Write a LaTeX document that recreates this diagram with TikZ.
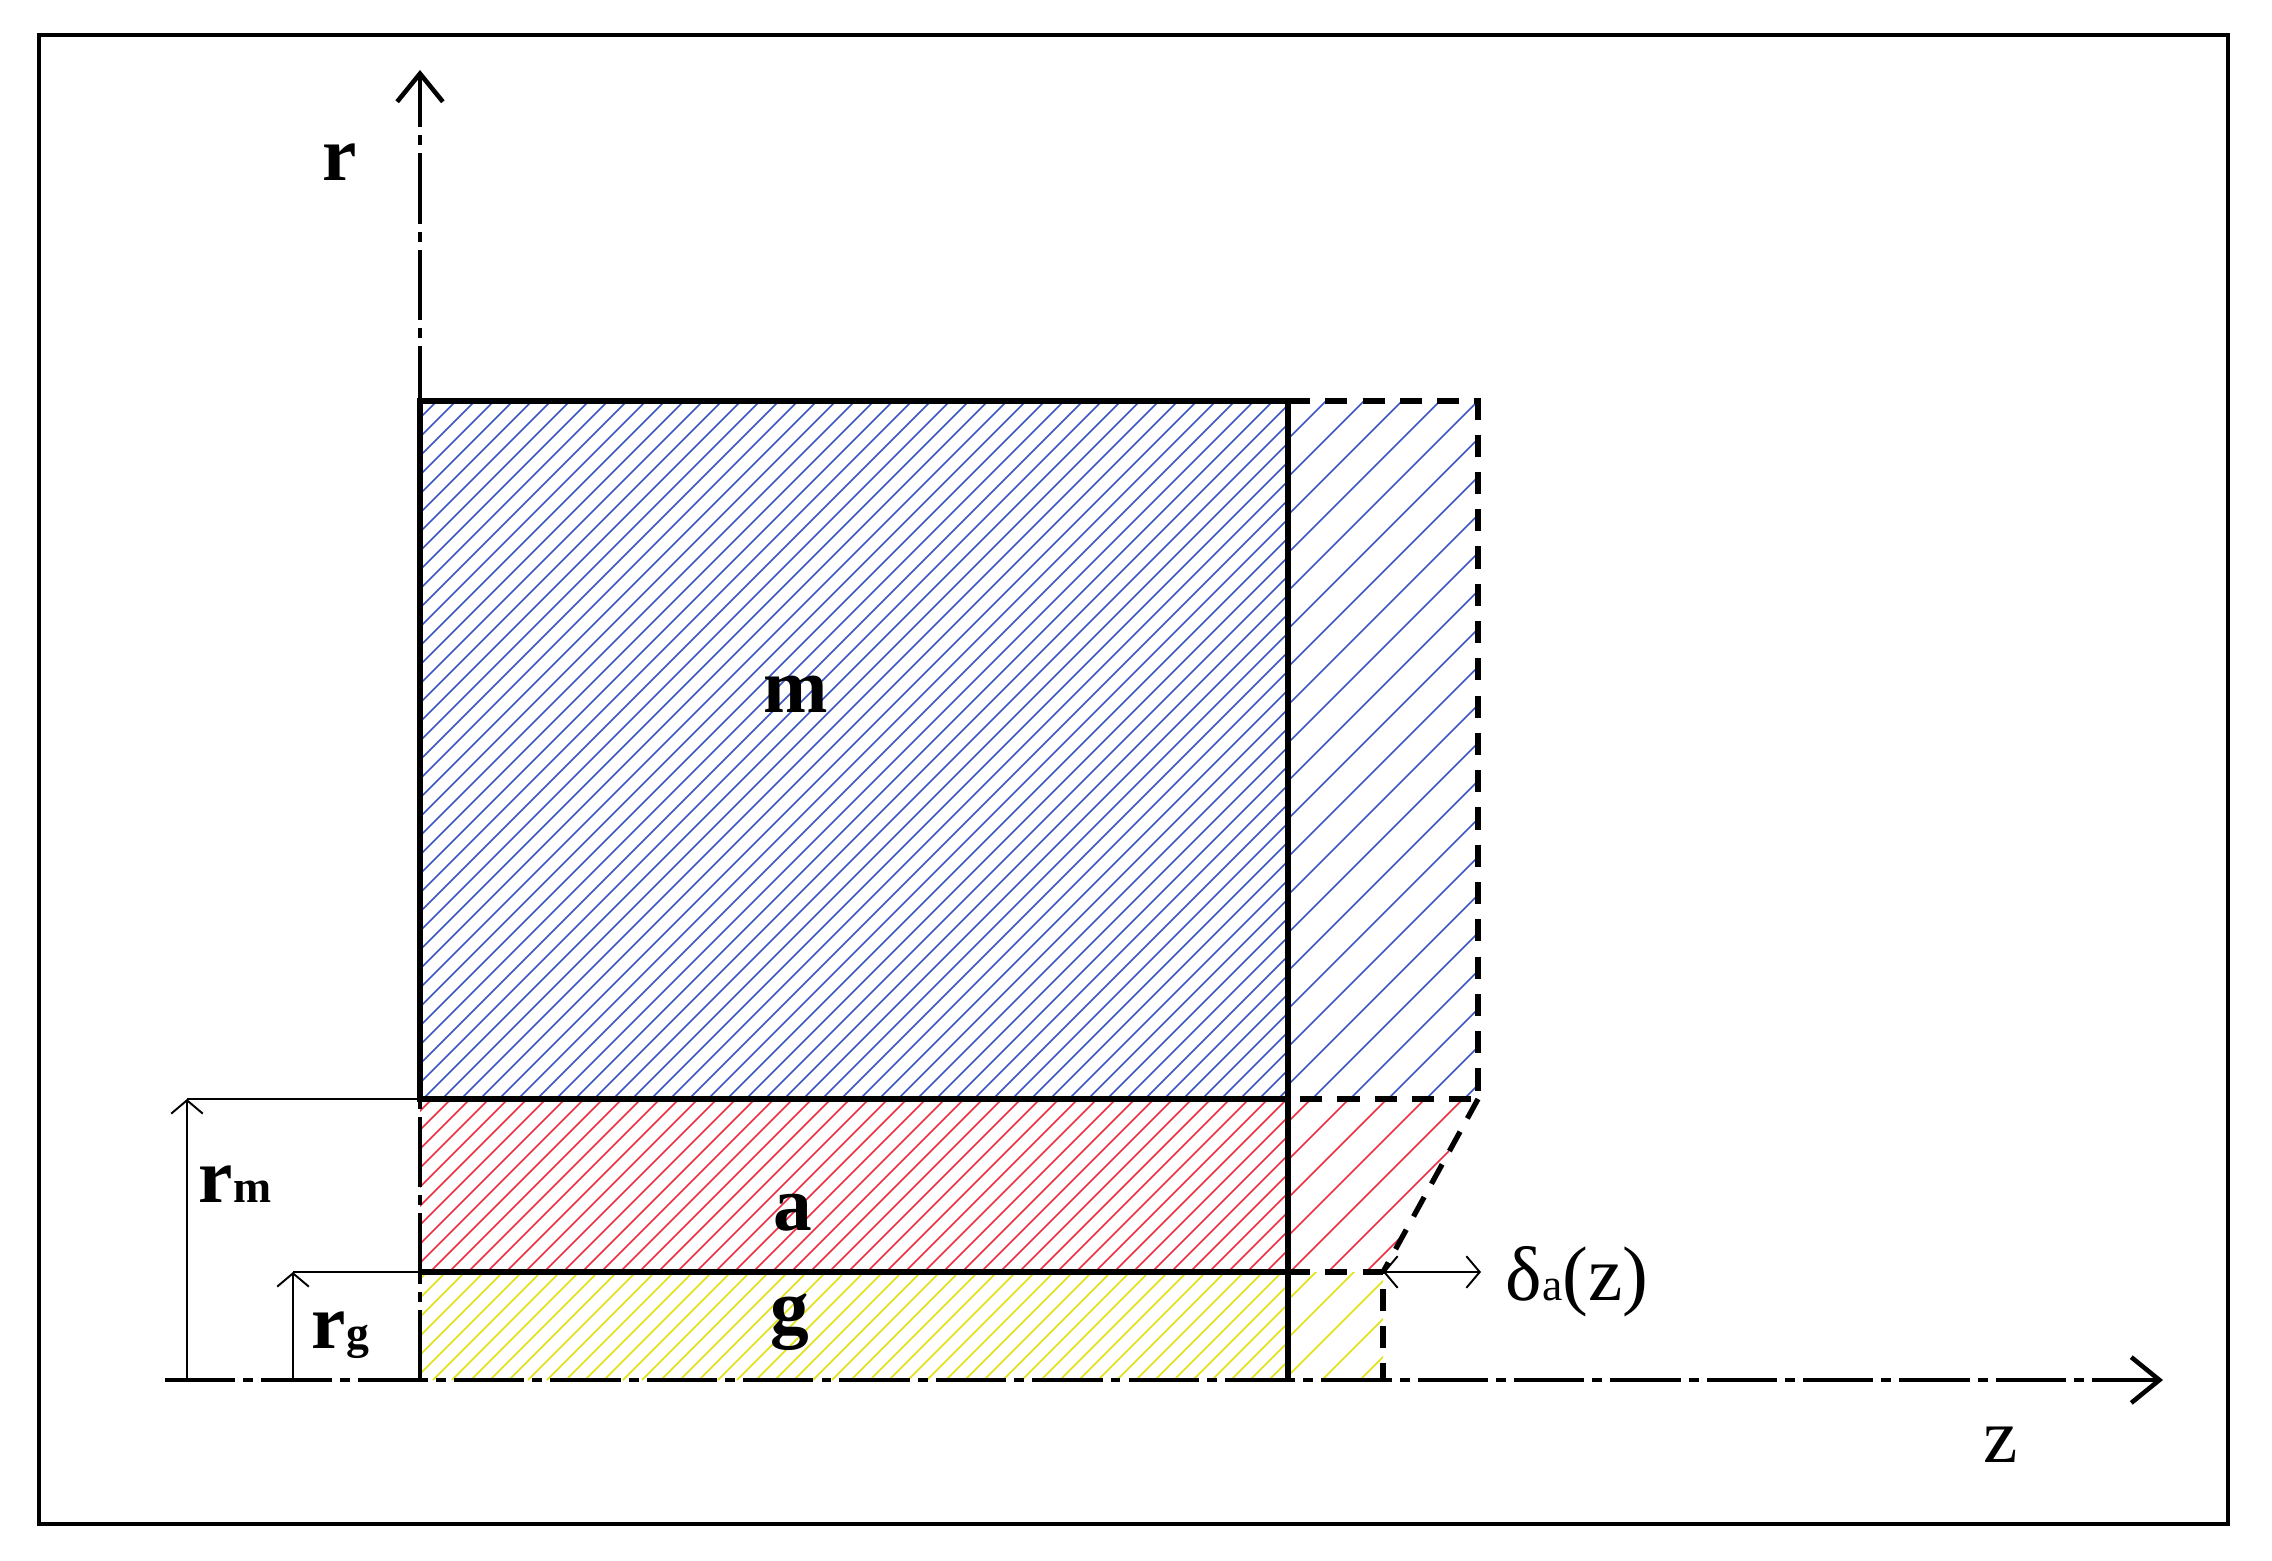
\documentclass[tikz,border=0pt]{standalone}
\usepackage{fontspec}
\setmainfont{Liberation Serif}
\usetikzlibrary{arrows.meta}
\definecolor{hblue}{RGB}{60,85,195}
\definecolor{hred}{RGB}{240,45,65}
\definecolor{hyellow}{RGB}{225,225,15}
\tikzset{
  edge/.style={line width=1.5pt},
  dashedge/.style={line width=1.5pt, dash pattern=on 6.3pt off 4.3pt},
  axisline/.style={line width=1.3pt, dash pattern=on 20pt off 2.3pt on 2.8pt off 2.3pt, -{Straight Barb[length=8pt,width=13pt]}},
  dimline/.style={line width=0.55pt},
  dimarrow/.style={dimline, -{Straight Barb[length=3.8pt,width=9pt]}},
  hatchline/.style={line width=0.45pt},
  lbl/.style={font=\fontsize{22}{22}\selectfont\bfseries, inner sep=0pt, anchor=base},
  sublbl/.style={font=\fontsize{22}{22}\selectfont\bfseries, inner sep=0pt, anchor=base west},
}
\newcommand{\smallsub}[1]{{\fontsize{13}{13}\selectfont #1}}
\begin{document}
\begin{tikzpicture}[x=0.01cm,y=-0.01cm]
\useasboundingbox (0,0) rectangle (2272,1560);
\fill[white] (0,0) rectangle (2272,1560);

% key points
\coordinate (O) at (420,1380);
\coordinate (rtop) at (420,70);
\coordinate (zl) at (165,1380);
\coordinate (zr) at (2163,1380);
\coordinate (mTL) at (420,401);
\coordinate (mTR) at (1288,401);
\coordinate (mBL) at (420,1099);
\coordinate (mBR) at (1288,1099);
\coordinate (aBL) at (420,1272);
\coordinate (aBR) at (1288,1272);
\coordinate (gBR) at (1288,1380);
\coordinate (eTR) at (1478,401);
\coordinate (eBR) at (1478,1099);
\coordinate (dP) at (1383,1272);
\coordinate (dB) at (1383,1380);
\coordinate (dE) at (1481,1272);
\coordinate (rmB) at (187,1380);
\coordinate (rmT) at (187,1099);
\coordinate (rgB) at (293,1380);
\coordinate (rgT) at (293,1272);

% hatching
\begin{scope}
  \clip (420,401) rectangle (1288,1099);
  \foreach \c in {-280,-261,...,1288} \draw[hatchline,hblue] (\c,1099) -- ++(700,-700);
\end{scope}
\begin{scope}
  \clip (1288,401) rectangle (1478,1099);
  \foreach \c in {590,628,...,1478} \draw[hatchline,hblue] (\c,1099) -- ++(700,-700);
\end{scope}
\begin{scope}
  \clip (420,1099) rectangle (1288,1272);
  \foreach \c in {240,259,...,1288} \draw[hatchline,hred] (\c,1272) -- ++(180,-180);
\end{scope}
\begin{scope}
  \clip (1288,1099) -- (1478,1099) -- (1383,1272) -- (1288,1272) -- cycle;
  \foreach \c in {1100,1138,...,1478} \draw[hatchline,hred] (\c,1272) -- ++(180,-180);
\end{scope}
\begin{scope}
  \clip (420,1272) rectangle (1288,1380);
  \foreach \c in {300,319,...,1288} \draw[hatchline,hyellow] (\c,1380) -- ++(110,-110);
\end{scope}
\begin{scope}
  \clip (1288,1272) rectangle (1383,1380);
  \foreach \c in {1170,1208,...,1383} \draw[hatchline,hyellow] (\c,1380) -- ++(110,-110);
\end{scope}

% frame
\draw[line width=1.1pt] (39,35) rectangle (2228,1524);

% axes
\draw[axisline] (O) -- (rtop);
\draw[axisline] (zl) -- (zr);

% solid edges
\draw[edge] (mTL) rectangle (mBR);
\draw[edge] (mTR) -- (gBR);
\draw[edge] (aBL) -- (aBR);

% dashed extension
\draw[dashedge] (mTR) -- (eTR) -- (eBR) -- (mBR);
\draw[dashedge] (eBR) -- (dP);
\draw[dashedge] (aBR) -- (dP) -- (dB);

% dimensions
\draw[dimarrow] (rmB) -- (rmT);
\draw[dimline] (rmT) -- (mBL);
\draw[dimarrow] (rgB) -- (rgT);
\draw[dimline] (rgT) -- (aBL);
\draw[dimline, {Straight Barb[length=3.8pt,width=9pt]}-{Straight Barb[length=3.8pt,width=9pt]}] (dP) -- (dE);

% labels
\node[lbl] (lr) at (340,180) {r};
\node[inner sep=0pt, anchor=base, font=\fontsize{22}{22}\selectfont] (lz) at (2001,1462) {z};
\node[lbl] (lm) at (796,712) {m};
\node[lbl] (la) at (793,1230) {a};
\node[lbl] (lg) at (790,1333) {g};
\node[sublbl] (lrm) at (198,1202) {r\smallsub{m}};
\node[sublbl] (lrg) at (311,1348) {r\smallsub{g}};
\node[inner sep=0pt, anchor=base west, font=\fontsize{22}{22}\selectfont] (ld) at (1505,1300) {δ\smallsub{a}(z)};
\end{tikzpicture}
\end{document}
